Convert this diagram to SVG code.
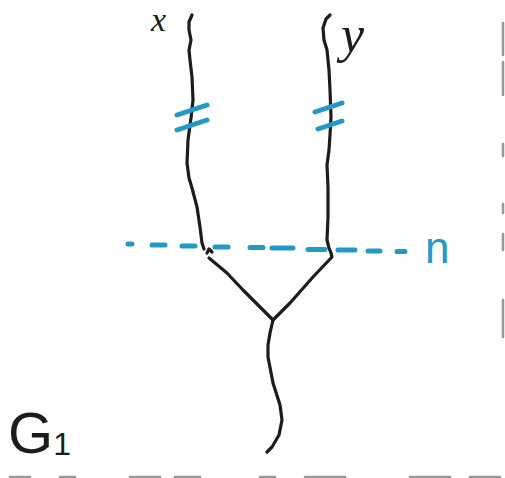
<svg xmlns="http://www.w3.org/2000/svg" width="505" height="478" viewBox="0 0 505 478">
<style>
.ink{fill:none;stroke:#1c1c1c;stroke-width:3.2;stroke-linecap:round;stroke-linejoin:round}
.blue{fill:none;stroke:#2399c6;stroke-width:5;stroke-linecap:round}
.lbl{font-family:"Liberation Serif",serif;font-style:italic;fill:#1c1c1c}
.edge{stroke:#555555;stroke-width:2.5;stroke-linecap:round;fill:none}
</style>
<rect width="505" height="478" fill="#ffffff"/>
<g id="strand-x">
<path class="ink" d="M192,15 L189,22 L189,30 L191,40 L189,50 L190,60 L192,77 L193,100 L191,118 L188,140 L187,163 L189,178 L192,188 L197,207 L200,227 L202,243 L204,249"/>
<path class="ink" stroke-width="1.5" d="M207,253 L209,249 L212,252"/>
<text class="lbl" x="151" y="31" font-size="34">x</text>
</g>
<g id="strand-y">
<path class="ink" d="M330,15 L326,19 L323,28 L324,40 L327,50 L329,70 L330,90 L331,117 L330,135 L329,150 L327,165 L328,187 L328,217 L327,240 L329,248 L331,253 L332,257"/>
<text class="lbl" x="341" y="52" font-size="52">y</text>
</g>
<g id="junction">
<path class="ink" d="M209,258 L227,273 L243,290 L273,320"/>
<path class="ink" d="M331,258 L313,277 L290,303 L273,320"/>
<path class="ink" d="M273,320 L270,333 L268,345 L268,357 L273,383 L280,405 L282,420 L279,435 L272,447 L267,452"/>
</g>
<g id="ticks">
<path class="blue" d="M177,115 L207,105 M177,130 L207,120"/>
<path class="blue" d="M315,112 L342,103 M318,129 L342,121"/>
</g>
<g id="cut-n">
<path class="blue" d="M128,244 L132,244 M152,245 L165,245 M182,246 L195,246 M215,247 L228,247 M250,247.5 L263,247.5 M272,248 L293,248 M308,249.5 L325,249.5 M338,250 L355,250 M368,251 L380,251 M397,251.5 L405,251.5"/>
<text x="425" y="263" font-family="Liberation Sans, sans-serif" font-size="44" fill="#2399c6">n</text>
</g>
<g id="label-G1">
<text x="8" y="453" font-family="Liberation Sans, sans-serif" font-size="58" fill="#1c1c1c">G<tspan font-size="32" dy="2">1</tspan></text>
</g>
<g id="page-edge" opacity="0.6">
<path class="edge" d="M503,23 L503,55 M503,62 L503,95 M503,144 L503,156 M503,204 L503,213 M503,234 L503,250 M503,300 L503,337"/>
<path class="edge" stroke-width="4" d="M10,477 L30,477 M60,477 L75,477 M130,477 L160,477 M175,477 L200,477 M260,477 L275,477 M305,477 L345,477 M410,477 L450,477 M470,477 L500,477"/>
</g>
</svg>
